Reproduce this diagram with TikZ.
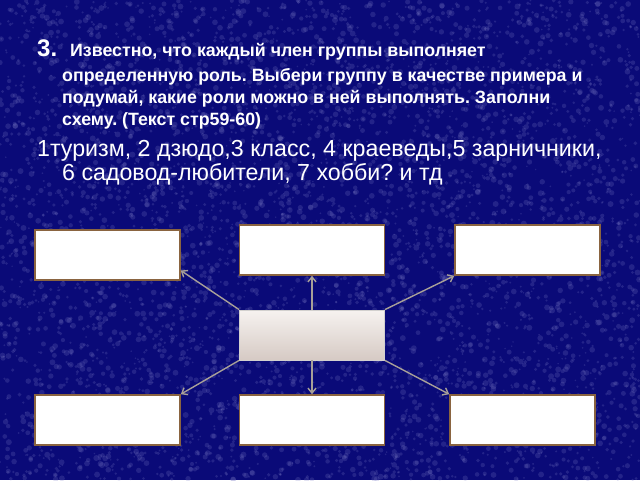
\documentclass[tikz,border=0pt]{standalone}
\usepackage{fontspec}
\setmainfont{Liberation Sans}
\usetikzlibrary{arrows.meta,calc}
\definecolor{bgblue}{HTML}{0A0A78}
\definecolor{speck}{HTML}{8080C8}
\definecolor{boxedge}{HTML}{8A6440}
\definecolor{arrowc}{HTML}{A8A098}
\definecolor{ctop}{HTML}{F6F2F0}
\definecolor{cbot}{HTML}{D6CAC4}
\frenchspacing
\tikzset{
  wbox/.style={draw=boxedge, line width=1.6pt, fill=white, minimum width=145pt, minimum height=50pt, inner sep=0pt},
  cbox/.style={draw=ctop!70!gray, line width=0.8pt, top color=ctop, bottom color=cbot, minimum width=145pt, minimum height=50pt, inner sep=0pt},
  link/.style={draw=arrowc, line width=1.4pt, -{Straight Barb[length=5pt,width=8pt]}},
  txt/.style={anchor=base west, text=white, inner sep=0pt},
  small/.style={txt, font=\fontsize{17.8}{20}\selectfont\bfseries},
  big/.style={txt, font=\fontsize{23.2}{26}\selectfont}
}
\begin{document}
\begin{tikzpicture}[x=1pt,y=-1pt]
\useasboundingbox (0,0) rectangle (640,480);
\fill[bgblue] (0,0) rectangle (640,480);
\pgfmathsetseed{7}
\foreach \i in {1,...,5500}{
  \pgfmathsetmacro{\px}{rnd*640}
  \pgfmathsetmacro{\py}{rnd*480}
  \pgfmathsetmacro{\pr}{0.8+rnd*2.2}
  \fill[speck, opacity=0.22] (\px,\py) circle (\pr);
}
% text
\node[txt, font=\fontsize{24}{26}\selectfont\bfseries] (n3) at (37,56) {3.};
\node[small] (l1) at (70,56) {Известно, что каждый член группы выполняет};
\node[small] (l2) at (62,81) {определенную роль. Выбери группу в качестве примера и};
\node[small] (l3) at (62,103) {подумай, какие роли можно в ней выполнять. Заполни};
\node[small] (l4) at (62,125) {схему. (Текст стр59-60)};
\node[big] (m1) at (37,156) {1туризм, 2 дзюдо,3 класс, 4 краеведы,5 зарничники,};
\node[big] (m2) at (62,180) {6 садовод-любители, 7 хобби? и тд};
% boxes
\node[wbox] (tl) at (107.5,255) {};
\node[wbox] (tm) at (312,250) {};
\node[wbox] (tr) at (527.5,250) {};
\node[cbox] (c) at (312,335) {};
\node[wbox] (bl) at (107.5,420) {};
\node[wbox] (bm) at (312,420) {};
\node[wbox] (br) at (522.5,420) {};
% arrows
\draw[link] (c.north west) -- ($(tl.south east)!0.2!(tl.north east)$);
\draw[link] (c.north) -- (tm.south);
\draw[link] (c.north east) -- (tr.south west);
\draw[link] (c.south west) -- (bl.north east);
\draw[link] (c.south) -- (bm.north);
\draw[link] (c.south east) -- (br.north west);
\end{tikzpicture}
\end{document}
